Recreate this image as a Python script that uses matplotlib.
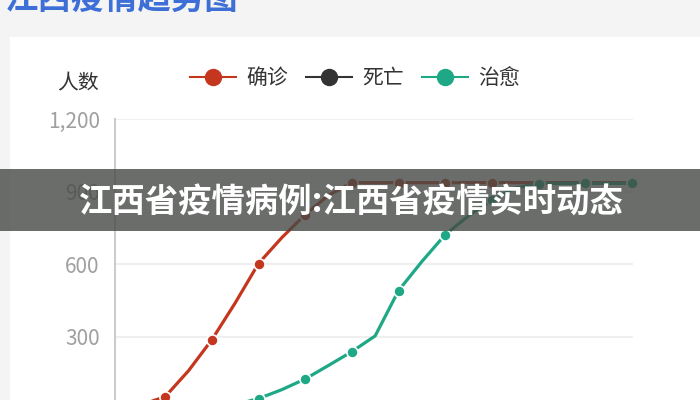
import matplotlib
matplotlib.use('Agg')
from matplotlib import pyplot as plt
from matplotlib.lines import Line2D
from matplotlib.patches import Rectangle

plt.rcParams['font.family'] = ['Noto Sans CJK SC', 'DejaVu Sans']

# data (one point per step, markers on every other point)
days = list(range(23))
confirmed = [5, 20, 53, 160, 288, 440, 603, 710, 805, 885, 937, 937, 937, 937,
             937, 937, 937, 937, 937, 937, 937, 937, 937]
deaths = [0, 0, 0, 0, 0, 0, 0, 0, 1, 1, 1, 1, 1, 1, 1, 1, 1, 1, 1, 1, 1, 1, 1]
cured = [0, 1, 2, 4, 8, 20, 45, 82, 126, 182, 239, 304, 491, 611, 722, 800,
         865, 915, 933, 934, 934, 934, 934]
series_names = ['确诊', '死亡', '治愈']
series_colors = ['#c5361f', '#333333', '#1ea885']
y_ticks = [300, 600, 900, 1200]
y_labels = ['300', '600', '900', '1,200']

W, H = 700, 400
fig = plt.figure(figsize=(W / 100, H / 100), dpi=100)
fig.patch.set_facecolor('#f4f4f4')


def fx(x):
    return x / W


def fy(y):
    return 1 - y / H


# white card
fig.patches.append(Rectangle((fx(10), 0), 1, fy(37), transform=fig.transFigure,
                             facecolor='white', edgecolor='none', zorder=-5))

# title, cut off at the top
fig.text(fx(5), fy(9), '江西疫情趋势图', fontsize=24, fontweight='bold',
         color='#3d6fd6', ha='left', va='baseline')

# plot area: x from 115 to 633 px, y 1200 at 119 px, 0 at 409.5 px
left, right, top, bottom = 115, 633, 119, 409.5
ax = fig.add_axes([fx(left), fy(bottom), fx(right - left), (bottom - top) / H])
ax.set_zorder(2)
ax.patch.set_visible(False)
ax.set_xlim(-0.15, 22.05)
ax.set_ylim(0, 1200)

for v in y_ticks:
    ax.axhline(v, color='#efefef', lw=1.5, zorder=1)

for vals, c in zip([confirmed, deaths, cured], series_colors):
    ax.plot(days, vals, color=c, lw=2.3, marker='o', markevery=2, markersize=8,
            markerfacecolor=c, markeredgecolor='white', markeredgewidth=1.2,
            zorder=3, clip_on=False)

for s in ['top', 'right', 'bottom']:
    ax.spines[s].set_visible(False)
ax.spines['left'].set_color('#cccccc')
ax.spines['left'].set_linewidth(1.5)
ax.set_xticks([])
ax.set_yticks(y_ticks)
ax.set_yticklabels(y_labels)
ax.tick_params(axis='y', length=0, pad=11, labelsize=15, labelcolor='#a0a0a0')

fig.text(fx(78), fy(83), '人数', fontsize=15, color='#333333',
         ha='center', va='center')

handles = [Line2D([], [], color=c, lw=1.5, marker='o', markersize=11.5,
                  markerfacecolor=c, markeredgecolor=c)
           for c in series_colors]
fig.legend(handles, series_names, loc='center', bbox_to_anchor=(fx(355), fy(78)),
           ncol=3, frameon=False, fontsize=15, handlelength=2.2,
           handletextpad=0.5, columnspacing=0.85, labelcolor='#333333')

# grey banner across the middle
fig.patches.append(Rectangle((0, fy(231)), 1, (231 - 169) / H,
                             transform=fig.transFigure, facecolor='#454945',
                             alpha=0.8, edgecolor='none', zorder=10))
fig.text(fx(351), fy(203), '江西省疫情病例:江西省疫情实时动态', fontsize=24,
         fontweight='black', color='white', ha='center', va='center', zorder=11)

fig.savefig('out.png', dpi=100, facecolor=fig.get_facecolor())
